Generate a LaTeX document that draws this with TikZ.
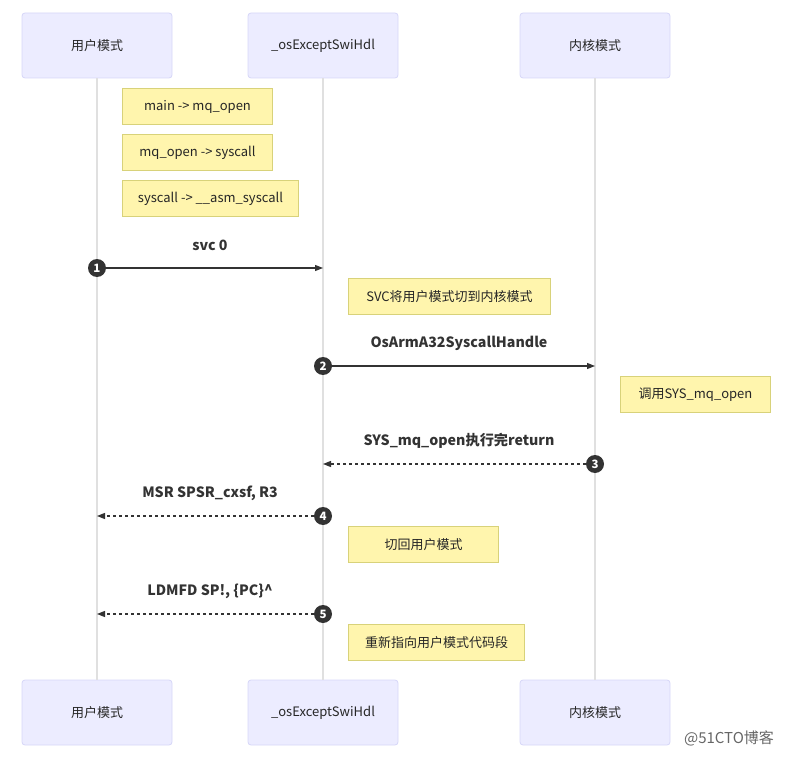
\documentclass[tikz,border=0pt]{standalone}
\usepackage{fontspec}
\setmainfont{Noto Sans CJK SC}
\usetikzlibrary{arrows.meta}
\definecolor{actfill}{HTML}{ECECFF}
\definecolor{actdraw}{HTML}{D6D6F8}
\definecolor{notefill}{HTML}{FFF5AD}
\definecolor{notedraw}{HTML}{D8D27A}
\definecolor{lifeline}{HTML}{E0E0E0}
\definecolor{msg}{HTML}{333333}
\tikzset{
  actor/.style={draw=actdraw, fill=actfill, line width=0.8pt, rounded corners=3pt,
    minimum width=150pt, minimum height=65pt, inner sep=0pt,
    font=\fontsize{13}{15}\selectfont, text=black!85},
  notebox/.style={draw=notedraw, fill=notefill, line width=1pt, anchor=north west,
    minimum height=36pt, inner sep=0pt, font=\fontsize{13}{15}\selectfont, text=black!85},
  lifeln/.style={draw=lifeline, line width=1.5pt},
  msgline/.style={draw=msg, line width=1.3pt, -{Triangle[length=8pt,width=6pt]}},
  retline/.style={msgline, dash pattern=on 3pt off 3pt},
  seqnum/.style={circle, fill=msg, text=white, inner sep=0pt, minimum size=18pt,
    font=\fontsize{11.5}{12}\selectfont\bfseries},
  msglabel/.style={font=\fontsize{14.2}{17}\selectfont\bfseries, text=msg},
}
\begin{document}
\begin{tikzpicture}[x=1pt,y=-1pt]
\useasboundingbox (0,0) rectangle (788,757);
% actors
\node[actor] (u1) at (97,45.5) {用户模式};
\node[actor] (h1) at (323,45.5) {\_osExceptSwiHdl};
\node[actor] (k1) at (595,45.5) {内核模式};
\node[actor] (u2) at (97,712.5) {用户模式};
\node[actor] (h2) at (323,712.5) {\_osExceptSwiHdl};
\node[actor] (k2) at (595,712.5) {内核模式};
% lifelines
\draw[lifeln] (u1.south) -- (u2.north);
\draw[lifeln] (h1.south) -- (h2.north);
\draw[lifeln] (k1.south) -- (k2.north);
% notes
\node[notebox, minimum width=150pt] (n1) at (122,88) {main -> mq\_open};
\node[notebox, minimum width=150pt] (n2) at (122,134) {mq\_open -> syscall};
\node[notebox, minimum width=176pt] (n3) at (122,180) {syscall -> \_\_asm\_syscall};
\node[notebox, minimum width=202pt] (n4) at (348,278) {SVC将用户模式切到内核模式};
\node[notebox, minimum width=150pt] (n5) at (620,376) {调用SYS\_mq\_open};
\node[notebox, minimum width=150pt] (n6) at (348,526) {切回用户模式};
\node[notebox, minimum width=176pt] (n7) at (348,624) {重新指向用户模式代码段};
% message endpoints
\coordinate (e1) at (323,268);
\coordinate (e2) at (595,366);
\coordinate (e3) at (323,464);
\coordinate (e4) at (97,516);
\coordinate (e5) at (97,614);
% messages
\node[seqnum] (s1) at (97,268) {1};
\draw[msgline] (s1) -- (e1);
\node[msglabel] (l1) at (210,245) {svc 0};
\node[seqnum] (s2) at (323,366) {2};
\draw[msgline] (s2) -- (e2);
\node[msglabel] (l2) at (459,343) {OsArmA32SyscallHandle};
\node[seqnum] (s3) at (595,464) {3};
\draw[retline] (s3) -- (e3);
\node[msglabel] (l3) at (459,441) {SYS\_mq\_open执行完return};
\node[seqnum] (s4) at (323,516) {4};
\draw[retline] (s4) -- (e4);
\node[msglabel] (l4) at (210,493) {MSR SPSR\_cxsf, R3};
\node[seqnum] (s5) at (323,614) {5};
\draw[retline] (s5) -- (e5);
\node[msglabel] (l5) at (210,591) {LDMFD SP!, \{PC\}\^{}};
% watermark
\node[font=\fontsize{15}{17}\selectfont, text=black!60] (wm) at (729,738) {@51CTO博客};
\end{tikzpicture}
\end{document}
